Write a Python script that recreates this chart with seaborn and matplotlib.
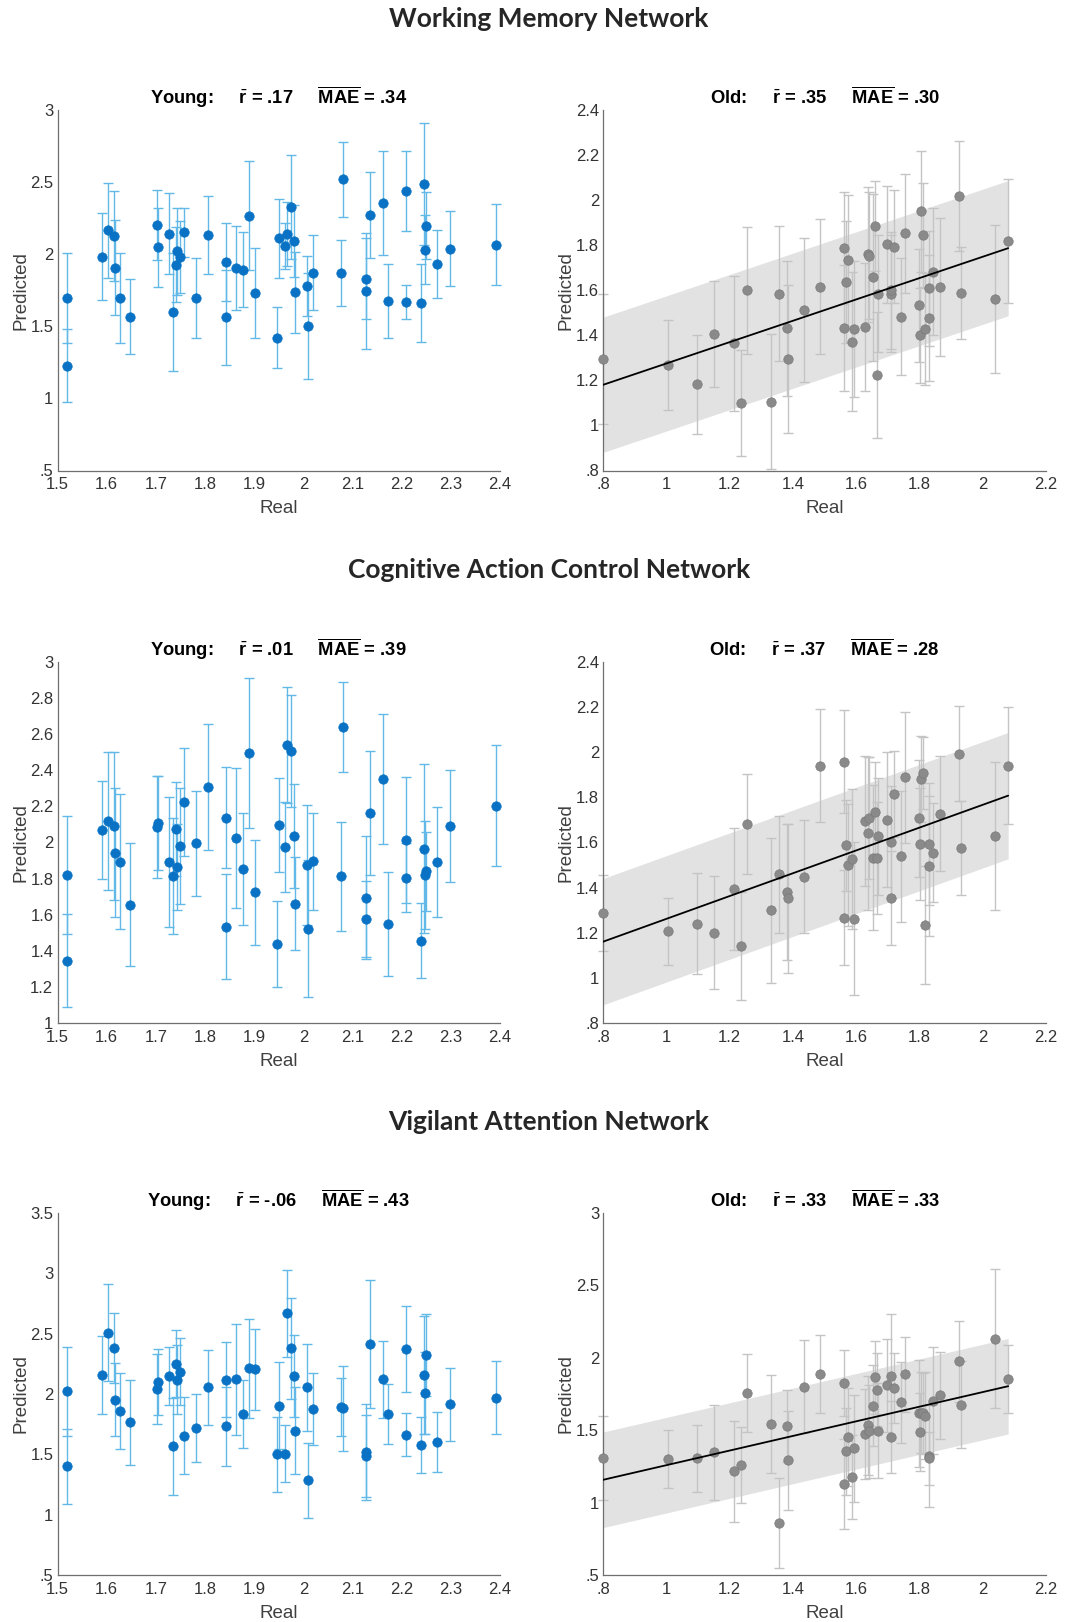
import numpy as np
import pandas as pd
import matplotlib
matplotlib.use("Agg")
import matplotlib.pyplot as plt
import seaborn as sns
from matplotlib.ticker import FuncFormatter, MultipleLocator

# ---------------- data ----------------
networks = ["Working Memory Network", "Cognitive Action Control Network", "Vigilant Attention Network"]
young_r_text = [".17", ".01", "-.06"]
young_mae_text = [".34", ".39", ".43"]
old_r_text = [".35", ".37", ".33"]
old_mae_text = [".30", ".28", ".33"]
old_mae = [0.30, 0.28, 0.33]

young_real = [1.520, 1.520, 1.591, 1.602, 1.615, 1.616, 1.627, 1.647, 1.702, 1.704,
              1.726, 1.734, 1.740, 1.743, 1.749, 1.758, 1.782, 1.806, 1.842, 1.842,
              1.863, 1.877, 1.889, 1.901, 1.947, 1.950, 1.962, 1.966, 1.975, 1.981,
              1.983, 2.007, 2.010, 2.019, 2.076, 2.081, 2.127, 2.128, 2.136, 2.163,
              2.173, 2.208, 2.209, 2.239, 2.246, 2.247, 2.250, 2.272, 2.298, 2.392]

wm_young_pred = [1.697, 1.228, 1.983, 2.166, 2.127, 1.905, 1.697, 1.567, 2.203, 2.048,
                 2.143, 1.600, 1.928, 2.020, 1.979, 2.152, 1.697, 2.134, 1.946, 1.563,
                 1.905, 1.893, 2.268, 1.731, 1.422, 2.110, 2.055, 2.140, 2.325, 2.092,
                 1.736, 1.780, 1.503, 1.872, 1.868, 2.519, 1.831, 1.745, 2.272, 2.355,
                 1.674, 2.439, 1.669, 1.660, 2.487, 2.030, 2.198, 1.930, 2.039, 2.067]
wm_young_err = [0.31, 0.25, 0.30, 0.33, 0.31, 0.33, 0.31, 0.26, 0.24, 0.275,
                0.28, 0.41, 0.26, 0.30, 0.25, 0.17, 0.28, 0.27, 0.27, 0.33,
                0.29, 0.26, 0.38, 0.31, 0.21, 0.275, 0.16, 0.22, 0.36, 0.25,
                0.28, 0.21, 0.37, 0.26, 0.23, 0.26, 0.28, 0.40, 0.30, 0.36,
                0.255, 0.275, 0.12, 0.27, 0.42, 0.24, 0.23, 0.235, 0.26, 0.28]

cac_young_pred = [1.820, 1.346, 2.069, 2.119, 2.090, 1.944, 1.894, 1.655, 2.086, 2.106,
                  1.894, 1.814, 2.077, 1.864, 1.981, 2.225, 1.995, 2.306, 2.138, 1.533,
                  2.025, 1.853, 2.497, 1.723, 1.438, 2.097, 1.973, 2.541, 2.508, 2.036,
                  1.662, 1.875, 1.522, 1.895, 1.812, 2.641, 1.694, 1.577, 2.164, 2.351,
                  1.548, 2.014, 1.805, 1.457, 1.966, 1.820, 1.840, 1.894, 2.090, 2.204]
cac_young_err = [0.325, 0.26, 0.27, 0.38, 0.41, 0.356, 0.375, 0.34, 0.28, 0.26,
                 0.36, 0.32, 0.26, 0.24, 0.32, 0.30, 0.29, 0.35, 0.28, 0.29,
                 0.39, 0.31, 0.415, 0.29, 0.24, 0.26, 0.25, 0.32, 0.31, 0.29,
                 0.26, 0.33, 0.38, 0.27, 0.30, 0.25, 0.34, 0.21, 0.345, 0.36,
                 0.29, 0.35, 0.19, 0.21, 0.47, 0.30, 0.22, 0.305, 0.31, 0.335]

va_young_pred = [2.022, 1.401, 2.157, 2.508, 2.378, 1.953, 1.856, 1.765, 2.039, 2.097,
                 2.152, 1.566, 2.251, 2.119, 2.185, 1.655, 1.718, 2.055, 2.119, 1.732,
                 2.122, 1.834, 2.213, 2.204, 1.500, 1.903, 1.506, 2.669, 2.378, 2.146,
                 1.696, 2.055, 1.285, 1.876, 1.890, 1.881, 1.519, 1.486, 2.417, 2.122,
                 1.837, 2.373, 1.663, 1.577, 2.155, 2.008, 2.323, 1.602, 1.914, 1.970]
va_young_err = [0.37, 0.31, 0.32, 0.40, 0.29, 0.30, 0.315, 0.35, 0.29, 0.275,
                0.24, 0.40, 0.28, 0.285, 0.28, 0.32, 0.285, 0.31, 0.31, 0.33,
                0.46, 0.28, 0.41, 0.335, 0.31, 0.36, 0.235, 0.36, 0.42, 0.34,
                0.36, 0.36, 0.31, 0.30, 0.24, 0.35, 0.40, 0.34, 0.53, 0.32,
                0.25, 0.36, 0.18, 0.235, 0.49, 0.34, 0.34, 0.245, 0.30, 0.305]

old_real = [0.798, 1.005, 1.097, 1.150, 1.212, 1.236, 1.255, 1.330, 1.356, 1.380,
            1.383, 1.436, 1.486, 1.560, 1.562, 1.567, 1.573, 1.586, 1.594, 1.629,
            1.639, 1.641, 1.652, 1.660, 1.666, 1.668, 1.699, 1.709, 1.711, 1.720,
            1.741, 1.754, 1.800, 1.802, 1.806, 1.811, 1.819, 1.831, 1.832, 1.844,
            1.866, 1.925, 1.931, 2.038, 2.081]

wm_old_pred = [1.295, 1.267, 1.182, 1.407, 1.364, 1.099, 1.599, 1.105, 1.584, 1.431,
               1.295, 1.513, 1.615, 1.431, 1.788, 1.636, 1.733, 1.372, 1.428, 1.436,
               1.759, 1.754, 1.658, 1.886, 1.225, 1.585, 1.804, 1.585, 1.600, 1.794,
               1.483, 1.852, 1.533, 1.400, 1.950, 1.844, 1.428, 1.609, 1.477, 1.683,
               1.615, 2.018, 1.588, 1.561, 1.818]
wm_old_err = [0.29, 0.20, 0.22, 0.235, 0.30, 0.235, 0.28, 0.30, 0.30, 0.30,
              0.33, 0.32, 0.30, 0.28, 0.25, 0.27, 0.29, 0.31, 0.30, 0.285,
              0.30, 0.28, 0.37, 0.20, 0.28, 0.26, 0.26, 0.26, 0.26, 0.25,
              0.26, 0.265, 0.25, 0.21, 0.27, 0.23, 0.25, 0.255, 0.28, 0.28,
              0.305, 0.245, 0.205, 0.33, 0.275]

cac_old_pred = [1.287, 1.206, 1.240, 1.200, 1.395, 1.140, 1.682, 1.299, 1.459, 1.380,
                1.352, 1.448, 1.941, 1.266, 1.959, 1.587, 1.499, 1.527, 1.262, 1.695,
                1.641, 1.709, 1.533, 1.735, 1.531, 1.627, 1.701, 1.354, 1.602, 1.815,
                1.539, 1.889, 1.707, 1.593, 1.880, 1.909, 1.235, 1.593, 1.497, 1.555,
                1.728, 1.994, 1.576, 1.629, 1.940]
cac_old_err = [0.17, 0.15, 0.225, 0.25, 0.27, 0.24, 0.22, 0.32, 0.26, 0.30,
               0.33, 0.25, 0.25, 0.21, 0.23, 0.20, 0.27, 0.31, 0.34, 0.29,
               0.34, 0.27, 0.32, 0.22, 0.25, 0.26, 0.30, 0.21, 0.25, 0.19,
               0.29, 0.29, 0.26, 0.25, 0.19, 0.16, 0.26, 0.27, 0.31, 0.22,
               0.255, 0.21, 0.21, 0.33, 0.26]

va_old_pred = [1.305, 1.300, 1.305, 1.346, 1.215, 1.259, 1.756, 1.543, 0.861, 1.531,
               1.291, 1.800, 1.888, 1.127, 1.827, 1.353, 1.453, 1.180, 1.374, 1.476,
               1.534, 1.492, 1.670, 1.864, 1.781, 1.497, 1.809, 1.871, 1.453, 1.790,
               1.693, 1.885, 1.617, 1.488, 1.622, 1.617, 1.601, 1.323, 1.305, 1.705,
               1.740, 1.976, 1.675, 2.130, 1.851]
va_old_err = [0.29, 0.20, 0.23, 0.33, 0.35, 0.26, 0.27, 0.34, 0.31, 0.25,
              0.34, 0.32, 0.27, 0.31, 0.23, 0.30, 0.34, 0.29, 0.37, 0.31,
              0.34, 0.32, 0.28, 0.25, 0.25, 0.33, 0.32, 0.43, 0.25, 0.24,
              0.28, 0.26, 0.37, 0.27, 0.28, 0.28, 0.30, 0.35, 0.18, 0.37,
              0.30, 0.28, 0.30, 0.48, 0.235]

young_pred = [wm_young_pred, cac_young_pred, va_young_pred]
young_err = [wm_young_err, cac_young_err, va_young_err]
old_pred = [wm_old_pred, cac_old_pred, va_old_pred]
old_err = [wm_old_err, cac_old_err, va_old_err]

young_ylim = [(0.5, 3.0), (1.0, 3.0), (0.5, 3.5)]
young_ystep = [0.5, 0.2, 0.5]
old_ylim = [(0.8, 2.4), (0.8, 2.4), (0.5, 3.0)]
old_ystep = [0.2, 0.2, 0.5]

# ---------------- style ----------------
sns.set_style("white")
plt.rcParams["font.family"] = ["Liberation Sans", "DejaVu Sans"]
plt.rcParams["mathtext.fontset"] = "custom"
plt.rcParams["mathtext.rm"] = "Liberation Sans"
plt.rcParams["mathtext.bf"] = "Liberation Sans:bold"
plt.rcParams["mathtext.it"] = "Liberation Sans:italic"

BLUE = "#0a72c4"
BLUE_ERR = "#62b9e8"
GRAY = "#8a8a8a"
GRAY_EDGE = "#7a7a7a"
GRAY_ERR = "#c4c4c4"
BAND = "#e2e2e2"
SPINE = "#6f6f6f"
TXT = "#333333"

W, H = 1078, 1622
fig = plt.figure(figsize=(W / 100, H / 100), dpi=100)


def fmt(v, pos):
    s = f"{round(v, 6):g}"
    if s.startswith("0."):
        s = s[1:]
    return s


def style_axes(ax, xlim, xstep, ylim, ystep):
    ax.set_xlim(*xlim)
    ax.set_ylim(*ylim)
    ax.xaxis.set_major_locator(MultipleLocator(xstep))
    ax.yaxis.set_major_locator(MultipleLocator(ystep))
    ax.xaxis.set_major_formatter(FuncFormatter(fmt))
    ax.yaxis.set_major_formatter(FuncFormatter(fmt))
    for s in ["top", "right"]:
        ax.spines[s].set_visible(False)
    for s in ["left", "bottom"]:
        ax.spines[s].set_color(SPINE)
        ax.spines[s].set_linewidth(0.9)
    ax.tick_params(axis="both", direction="in", length=4, width=0.9, color=SPINE,
                   labelsize=12, labelcolor=TXT)
    ax.tick_params(axis="x", pad=5)
    ax.tick_params(axis="y", pad=3)
    ax.set_xlabel("Real", fontsize=13.5, color="#404040")
    ax.set_ylabel("Predicted", fontsize=13.5, color="#404040")
    ax.xaxis.set_label_coords(0.5, -0.082)
    ax.yaxis.set_label_coords(-0.064, 0.5)
    ax.set_facecolor("white")


left_x = 57.5 / W
right_x = 603.3 / W
ax_w = 442.5 / W
rows_top_bottom = [(110, 470.5), (662, 1023), (1213, 1575)]
title_y = [18.6, 570, 1122.5]

for i in range(3):
    top, bot = rows_top_bottom[i]
    b = 1 - bot / H
    h = (bot - top) / H

    # ---------- Young ----------
    ax = fig.add_axes([left_x, b, ax_w, h])
    df = pd.DataFrame({"Real": young_real, "Predicted": young_pred[i], "err": young_err[i]})
    ax.errorbar(df["Real"], df["Predicted"], yerr=df["err"], fmt="none",
                ecolor=BLUE_ERR, elinewidth=1.0, capsize=3.6, capthick=1.0,
                zorder=2, clip_on=False)
    sns.scatterplot(data=df, x="Real", y="Predicted", ax=ax, color=BLUE, s=46,
                    edgecolor=BLUE, linewidth=0.5, zorder=3, clip_on=False)
    style_axes(ax, (1.5, 2.4), 0.1, young_ylim[i], young_ystep[i])
    ax.set_title(r"Young:     $\bar{\mathbf{r}}$ = " + young_r_text[i]
                 + r"     $\overline{\mathbf{MAE}}$ = " + young_mae_text[i],
                 fontsize=13.2, fontweight="bold", color="black", pad=4)

    # ---------- Old ----------
    ax = fig.add_axes([right_x, b, ax_w, h])
    df = pd.DataFrame({"Real": old_real, "Predicted": old_pred[i], "err": old_err[i]})
    slope, intercept = np.polyfit(df["Real"], df["Predicted"], 1)
    xs = np.array([df["Real"].min(), df["Real"].max()])
    fit = intercept + slope * xs
    ax.fill_between(xs, fit - old_mae[i], fit + old_mae[i], color=BAND, lw=0, zorder=1)
    ax.errorbar(df["Real"], df["Predicted"], yerr=df["err"], fmt="none",
                ecolor=GRAY_ERR, elinewidth=1.0, capsize=3.6, capthick=1.0,
                zorder=2, clip_on=False)
    sns.scatterplot(data=df, x="Real", y="Predicted", ax=ax, color=GRAY, s=46,
                    edgecolor=GRAY_EDGE, linewidth=0.5, zorder=3, clip_on=False)
    sns.regplot(data=df, x="Real", y="Predicted", ax=ax, scatter=False, ci=None,
                truncate=True, line_kws={"color": "black", "lw": 1.3, "zorder": 4})
    style_axes(ax, (0.8, 2.2), 0.2, old_ylim[i], old_ystep[i])
    ax.set_title(r"Old:     $\bar{\mathbf{r}}$ = " + old_r_text[i]
                 + r"     $\overline{\mathbf{MAE}}$ = " + old_mae_text[i],
                 fontsize=13.2, fontweight="bold", color="black", pad=4)

    fig.text(549 / W, 1 - title_y[i] / H, networks[i], ha="center", va="center",
             fontsize=19, fontweight="bold", family=["Lato", "DejaVu Sans"])

fig.savefig("out.png", dpi=100)
